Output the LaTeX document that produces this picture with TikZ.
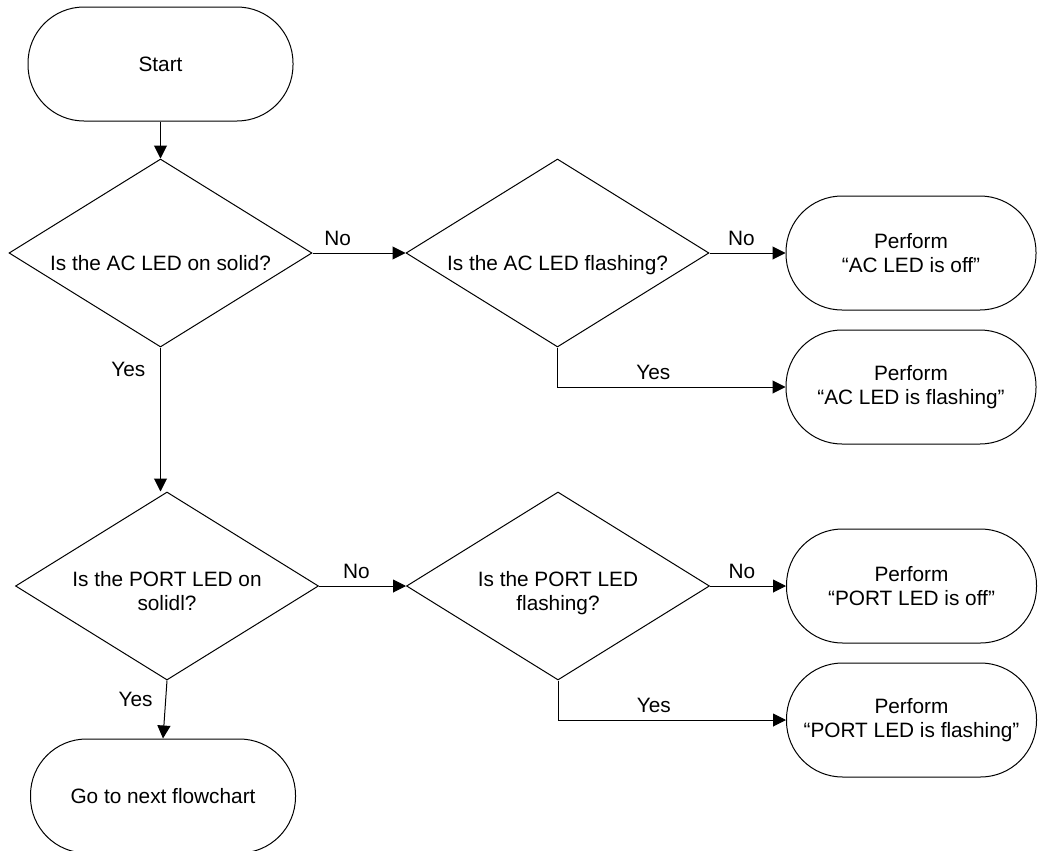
\documentclass[tikz,border=0pt]{standalone}
\usepackage{fontspec}
\setmainfont{Liberation Sans}
\usepackage{tikz}
\usetikzlibrary{arrows.meta,positioning,shapes.geometric}

\begin{document}
\begin{tikzpicture}[
    x=0.5pt, y=-0.5pt,
    every node/.style={font=\fontsize{10.4}{12}\selectfont},
    terminal/.style={
      rectangle, rounded corners=28pt, draw, line width=0.5pt,
      minimum width=132pt, minimum height=57pt,
      align=center, inner sep=0pt
    },
    startbox/.style={terminal, minimum width=132.5pt},
    perform/.style={terminal, minimum width=125pt},
    decision/.style={
      diamond, aspect=1.6, draw, line width=0.5pt, inner sep=0pt,
      minimum width=151.5pt, minimum height=94pt, align=center
    },
    oneline/.style={text height=19.8pt, text depth=2.2pt},
    twoline/.style={text height=27.1pt, text depth=2.2pt},
    arr/.style={-{Triangle[length=6.5pt,width=6.5pt]}, line width=0.5pt},
    lbl/.style={font=\fontsize{10.4}{12}\selectfont}
  ]
    \useasboundingbox (0,0) rectangle (1040,851);

    % ── AC LED ──
    \node[startbox] (start) at (160.5,64) {Start};
    \node[decision, oneline, below=18.5pt of start] (acsolid) {Is the AC LED on solid?};
    \node[decision, oneline, right=46.5pt of acsolid] (acflash) {Is the AC LED flashing?};
    \node[perform, right=38pt of acflash] (acoff) {Perform\\``AC LED is off''};
    \node[perform, below=9.5pt of acoff] (acflashing) {Perform\\``AC LED is flashing''};

    % ── PORT LED ──
    \node[decision, twoline] (portsolid) at (167,586) {Is the PORT LED on\\solidl?};
    \node[decision, twoline, right=43.5pt of portsolid] (portflash) {Is the PORT LED\\flashing?};
    \node[perform, right=38pt of portflash] (portoff) {Perform\\``PORT LED is off''};
    \node[perform, below=9.5pt of portoff] (portflashing) {Perform\\``PORT LED is flashing''};
    \node[startbox, below=29pt of portsolid, xshift=-2pt] (next) {Go to next flowchart};

    % ── Arrows: AC LED ──
    \draw[arr] (start.south) -- (acsolid.north);
    \draw[arr] (acsolid.east) -- node[lbl, above, pos=0.27] {No} (acflash.west);
    \draw[arr] (acflash.east) -- node[lbl, above, pos=0.42] {No} (acoff.west);
    \draw[arr] (acflash.south) |- node[lbl, above, pos=0.71] {Yes} (acflashing.west);
    \draw[arr] (acsolid.south) -- node[lbl, left=4pt, pos=0.15] {Yes} (acsolid.south |- portsolid.north);

    % ── Arrows: PORT LED ──
    \draw[arr] (portsolid.east) -- node[lbl, above, pos=0.43] {No} (portflash.west);
    \draw[arr] (portflash.east) -- node[lbl, above, pos=0.42] {No} (portoff.west);
    \draw[arr] (portflash.south) |- node[lbl, above, pos=0.71] {Yes} (portflashing.west);
    \draw[arr] (portsolid.south) -- node[lbl, left=3pt, pos=0.32] {Yes} (next.north);

  \end{tikzpicture}
\end{document}
